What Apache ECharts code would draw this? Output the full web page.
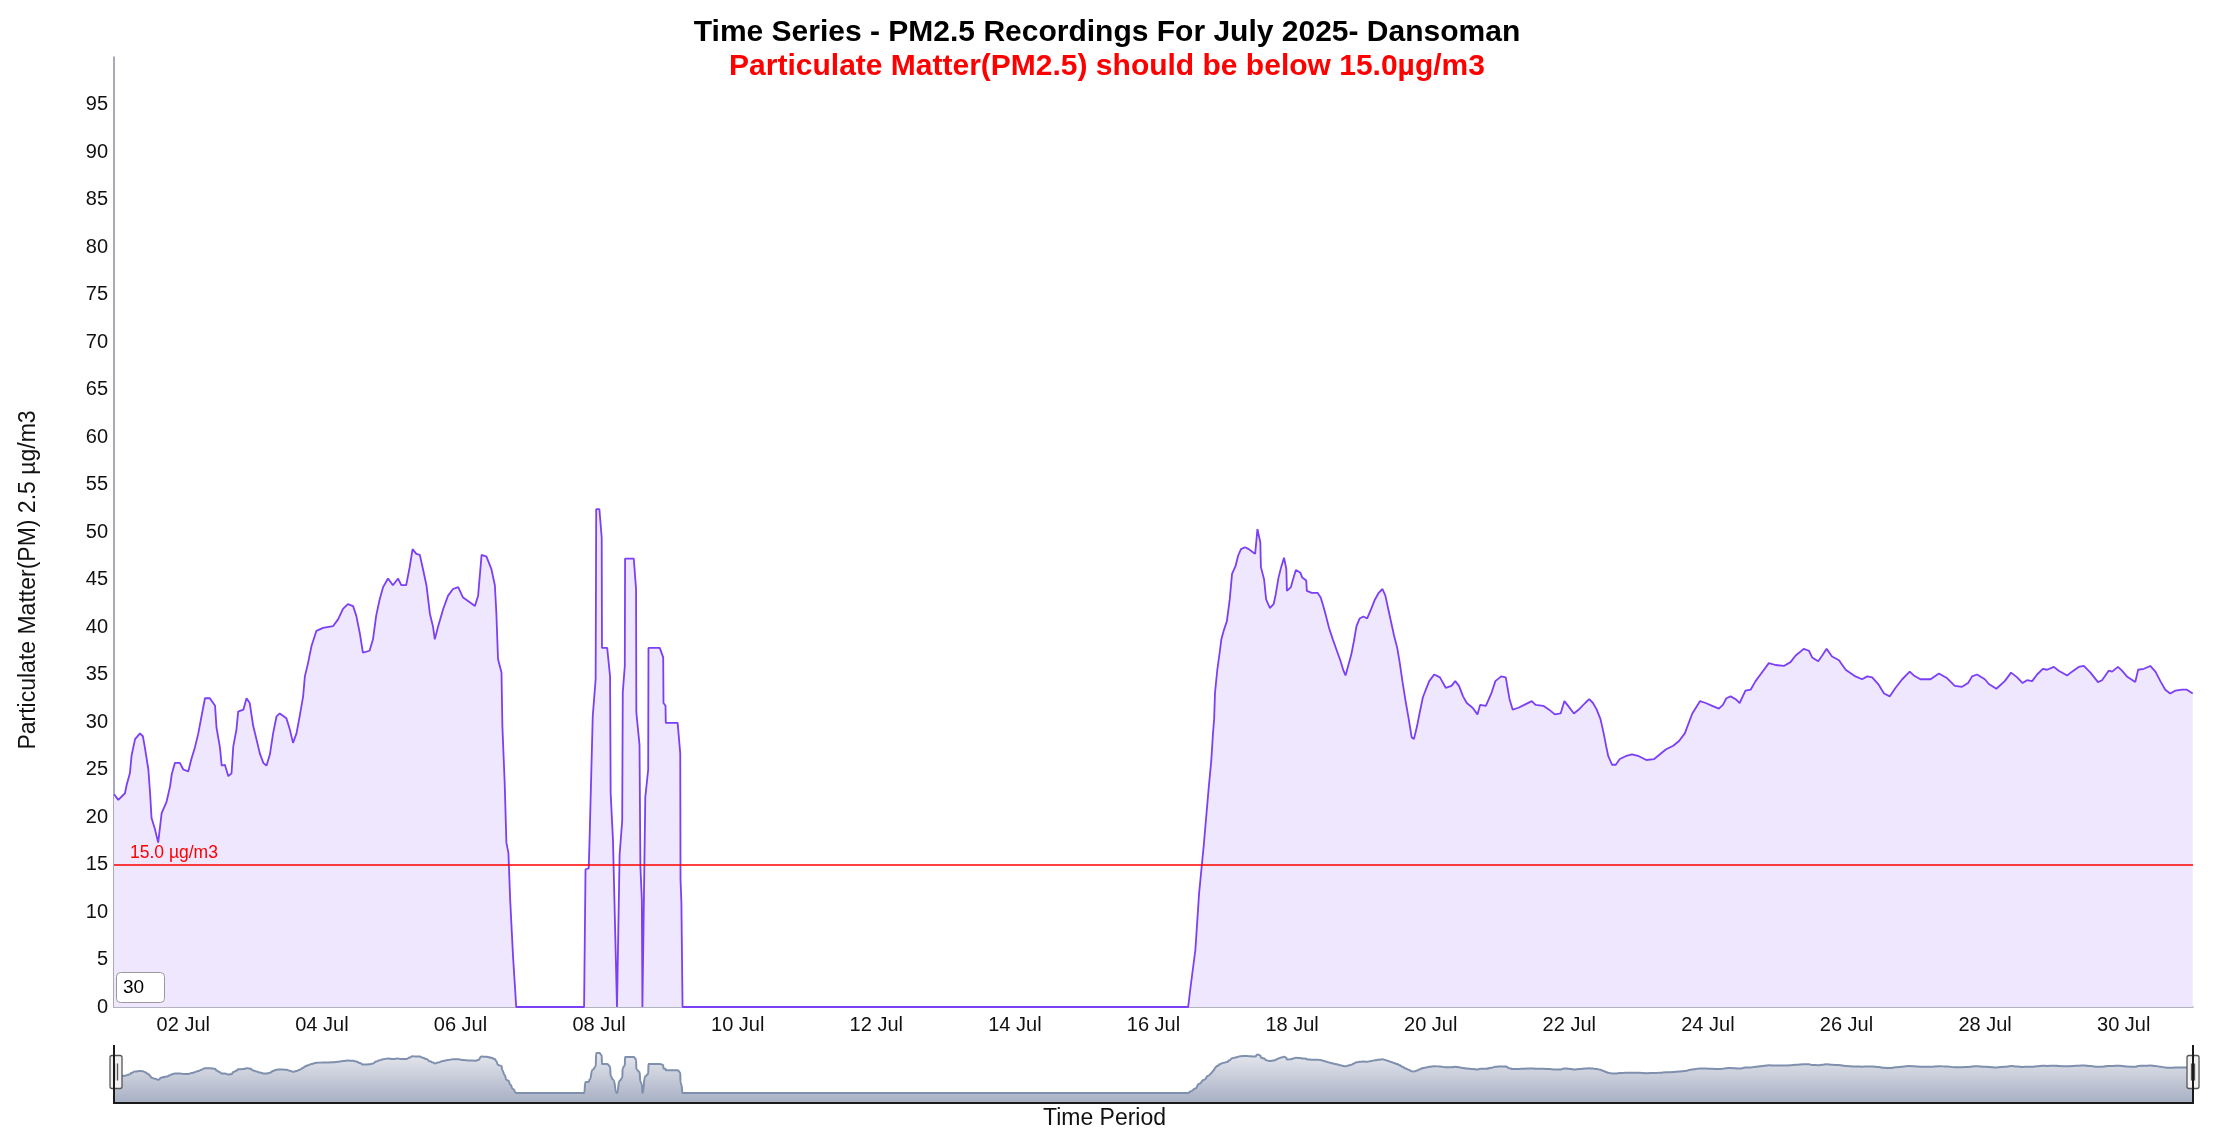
<!DOCTYPE html>
<html>
<head>
<meta charset="utf-8">
<script src="https://cdn.jsdelivr.net/npm/echarts@6/dist/echarts.min.js"></script>
<style>
html,body{margin:0;padding:0;background:#fff;}
#chart{width:2214px;height:1143px;}
</style>
</head>
<body>
<div id="chart"></div>
<script>
// ---- Data ----
const startUTC = Date.UTC(2025, 6, 1, 0, 0);   // 01 Jul 2025 00:00
const endUTC = Date.UTC(2025, 6, 31, 0, 0);    // 31 Jul 2025 00:00

// hours elapsed since 01 Jul 00:00
const hoursSinceStart = [
  0, 1.5, 3.8, 4.4, 5.5, 6.1, 7.3, 9.0, 10.0, 10.7, 11.9, 12.5, 13.0, 14.2, 15.3, 16.5, 18.2, 19.4, 20.0, 21.1,
  22.8, 24.0, 25.7, 26.9, 28.0, 29.2, 30.3, 31.5, 33.2, 35.0, 35.5, 36.7, 37.3, 38.4, 39.6, 40.7, 41.3, 42.4, 43.0, 44.8,
  45.9, 47.0, 48.2, 49.4, 50.5, 51.7, 52.8, 54.0, 55.1, 56.3, 57.4, 59.7, 60.9, 62.0, 63.2, 64.3, 65.5, 66.1, 67.2, 68.4,
  70.1, 72.4, 75.9, 77.6, 79.3, 81.0, 82.8, 83.9, 85.1, 86.2, 88.5, 89.7, 90.8, 92.0, 93.2, 94.9, 96.6, 98.4, 99.5, 101.2,
  102.4, 103.4, 104.7, 105.9, 107.0, 108.2, 109.4, 110.5, 111.1, 112.2, 114.0, 115.7, 117.4, 119.2, 120.9, 123.2, 125.0, 126.1, 127.3, 129.0,
  130.7, 131.9, 132.4, 133.0, 134.2, 134.5, 135.3, 135.9, 136.6, 137.2, 138.2, 139.3, 162.8, 163.3, 164.4, 164.7, 165.8, 166.8, 167.0, 168.1,
  168.9, 169.0, 170.8, 171.8, 172.0, 172.8, 174.2, 175.1, 176.0, 176.2, 176.9, 177.0, 180.0, 180.8, 180.9, 182.0, 182.3, 182.8, 183.0, 184.0,
  185.0, 185.1, 189.0, 190.2, 190.3, 191.0, 191.1, 195.2, 196.1, 196.2, 196.5, 196.9, 372.0, 373.0, 374.5, 375.8, 377.4, 379.1, 380.0, 380.6,
  381.0, 381.3, 382.1, 383.0, 383.5, 384.4, 385.4, 386.4, 387.2, 388.4, 389.3, 390.3, 391.7, 393.0, 394.3, 395.2, 396.0, 397.0, 397.2, 398.3,
  399.0, 400.3, 401.6, 402.3, 403.3, 404.2, 405.2, 406.0, 406.2, 407.6, 408.3, 409.3, 410.9, 411.5, 412.9, 413.1, 414.8, 416.8, 417.9, 418.8,
  419.7, 420.8, 422.1, 423.5, 424.8, 425.8, 426.5, 427.4, 428.5, 429.4, 430.3, 431.4, 432.7, 434.0, 435.4, 436.7, 438.0, 439.3, 440.3, 441.3,
  442.3, 443.3, 444.4, 445.3, 446.2, 447.3, 448.4, 449.4, 450.2, 451.3, 452.2, 453.3, 454.3, 455.5, 457.2, 459.2, 461.2, 463.2, 464.5, 465.8,
  467.2, 468.5, 470.5, 472.2, 473.1, 475.1, 477.1, 478.4, 480.4, 482.0, 483.3, 484.4, 486.4, 488.4, 491.0, 492.3, 495.0, 497.0, 499.0, 501.0,
  502.3, 503.6, 505.6, 507.6, 509.5, 510.9, 512.2, 513.5, 514.8, 515.9, 516.8, 517.5, 518.8, 520.1, 521.5, 523.5, 525.7, 528.1, 530.7, 533.4,
  535.4, 537.4, 540.0, 542.0, 544.0, 546.6, 549.3, 551.2, 553.5, 555.8, 557.2, 558.4, 559.9, 561.6, 563.0, 565.0, 566.8, 568.5, 570.2, 573.1,
  575.4, 578.3, 580.6, 582.4, 585.2, 587.0, 588.1, 590.2, 591.6, 593.1, 595.0, 597.4, 599.7, 603.1, 605.4, 607.2, 608.9, 611.2, 613.0, 615.0,
  617.0, 619.3, 621.9, 623.3, 625.6, 629.1, 632.0, 634.9, 637.5, 640.0, 642.1, 643.5, 645.2, 647.9, 649.3, 651.9, 654.8, 657.0, 659.1, 661.0,
  662.5, 664.3, 666.0, 668.0, 669.5, 671.8, 673.5, 676.4, 678.1, 680.4, 682.2, 684.5, 687.1, 688.5, 690.8, 692.0, 694.0, 695.4, 697.1, 700.0,
  701.0, 703.0, 705.2, 707.0, 708.7, 710.4, 712.1, 713.9, 716.2, 717.9, 719.9
];

// PM2.5 readings, µg/m3
const pm25Values = [
  22.4, 21.8, 22.5, 23.4, 24.6, 26.5, 28.2, 28.8, 28.5, 27.3, 25.0, 22.5, 19.9, 18.7, 17.3, 20.4, 21.6, 23.2, 24.5, 25.7,
  25.7, 25.0, 24.8, 26.2, 27.3, 28.8, 30.6, 32.5, 32.5, 31.7, 29.4, 27.3, 25.4, 25.5, 24.3, 24.6, 27.4, 29.2, 31.1, 31.3,
  32.5, 32.0, 29.6, 28.1, 26.7, 25.7, 25.4, 26.6, 28.8, 30.6, 30.9, 30.4, 29.2, 27.8, 28.8, 30.6, 32.7, 34.8, 36.2, 38.0,
  39.6, 39.9, 40.1, 40.8, 41.9, 42.4, 42.2, 41.2, 39.4, 37.3, 37.5, 38.7, 41.2, 42.9, 44.2, 45.1, 44.4, 45.1, 44.4, 44.4,
  46.3, 48.2, 47.7, 47.6, 46.1, 44.4, 41.4, 40.0, 38.7, 40.0, 41.9, 43.3, 44.0, 44.2, 43.1, 42.6, 42.2, 43.3, 47.6, 47.4,
  46.1, 44.4, 41.6, 36.6, 35.2, 29.6, 23.6, 17.3, 16.2, 11.3, 5.3, 0, 0, 14.5, 14.6, 17.6, 30.6, 34.5, 52.4, 52.4,
  49.4, 37.8, 37.8, 34.8, 22.5, 17.6, 0, 16.0, 19.6, 33.1, 35.9, 47.2, 47.2, 44.0, 31.0, 27.6, 14.8, 11.3, 0, 22.1,
  25.0, 37.8, 37.8, 36.8, 32.0, 31.7, 29.9, 29.9, 26.7, 13.4, 11.0, 0, 0, 2.5, 6.0, 12.0, 17.0, 23.0, 25.9, 28.8,
  30.3, 33.1, 35.5, 37.5, 38.7, 39.7, 40.6, 42.9, 45.6, 46.4, 47.5, 48.2, 48.4, 48.2, 47.9, 47.7, 50.3, 48.9, 46.3, 45.0,
  42.9, 42.0, 42.4, 43.4, 45.2, 46.3, 47.3, 46.1, 43.8, 44.2, 45.0, 46.0, 45.7, 45.2, 44.9, 43.8, 43.6, 43.6, 43.1, 42.2,
  41.2, 39.9, 38.7, 37.5, 36.4, 35.4, 34.9, 35.9, 37.1, 38.5, 40.1, 40.9, 41.1, 40.9, 41.9, 42.9, 43.6, 44.0, 43.3, 41.9,
  40.5, 39.1, 37.8, 36.2, 34.3, 32.2, 30.3, 28.4, 28.2, 29.6, 31.0, 32.6, 33.4, 34.3, 35.0, 34.7, 33.6, 33.8, 34.3, 33.8,
  32.7, 32.0, 31.5, 30.8, 31.8, 31.7, 33.1, 34.3, 34.8, 34.7, 32.4, 31.3, 31.5, 31.8, 32.2, 31.8, 31.7, 31.3, 30.8, 30.9,
  32.2, 31.7, 30.9, 31.4, 32.0, 32.4, 32.0, 31.3, 30.3, 28.8, 27.4, 26.4, 25.5, 25.5, 26.1, 26.4, 26.6, 26.4, 26.0, 26.1,
  26.6, 27.1, 27.5, 28.0, 28.8, 30.9, 32.2, 32.0, 31.7, 31.4, 31.8, 32.5, 32.7, 32.4, 32.0, 33.3, 33.4, 34.3, 35.0, 36.2,
  36.0, 35.9, 36.3, 37.0, 37.7, 37.5, 36.8, 36.4, 37.0, 37.7, 36.9, 36.5, 35.5, 34.8, 34.5, 34.8, 34.7, 33.9, 33.0, 32.7,
  33.6, 34.5, 35.3, 34.9, 34.5, 34.5, 35.1, 34.6, 33.8, 33.7, 34.1, 34.8, 35.0, 34.5, 34.0, 33.5, 34.3, 35.2, 34.7, 34.1,
  34.4, 34.3, 35.0, 35.6, 35.5, 35.8, 35.4, 34.9, 35.3, 35.8, 35.9, 35.2, 34.2, 34.4, 35.4, 35.3, 35.8, 35.4, 34.8, 34.2,
  35.5, 35.6, 35.9, 35.3, 34.3, 33.4, 33.0, 33.3, 33.4, 33.4, 33.0
];

// x-axis tick days and labels
const tickDays = [2, 4, 6, 8, 10, 12, 14, 16, 18, 20, 22, 24, 26, 28, 30];
const tickLabels = ['02 Jul', '04 Jul', '06 Jul', '08 Jul', '10 Jul', '12 Jul', '14 Jul', '16 Jul',
                    '18 Jul', '20 Jul', '22 Jul', '24 Jul', '26 Jul', '28 Jul', '30 Jul'];

const limitValue = 15.0;
const limitLabel = '15.0 µg/m3';
const rangeBoxText = '30';

const titleText = 'Time Series - PM2.5 Recordings For July 2025- Dansoman';
const subtitleText = 'Particulate Matter(PM2.5) should be below 15.0µg/m3';
const yAxisTitle = 'Particulate Matter(PM) 2.5 µg/m3';
const xAxisTitle = 'Time Period';

// ---- Build chart ----
const FONT = '"Liberation Sans", Arial, Helvetica, sans-serif';
const seriesData = hoursSinceStart.map((h, i) => [startUTC + h * 3600000, pm25Values[i]]);
const tickTimes = tickDays.map(d => Date.UTC(2025, 6, d, 0, 0));

const navGradient = {
  type: 'linear', x: 0, y: 0, x2: 0, y2: 1,
  colorStops: [{ offset: 0, color: '#e6e8ee' }, { offset: 1, color: '#a7afc3' }]
};

const chart = echarts.init(document.getElementById('chart'), null, { renderer: 'canvas' });
chart.setOption({
  animation: false,
  backgroundColor: '#ffffff',
  textStyle: { fontFamily: FONT },
  title: {
    left: 'center',
    top: 13,
    itemGap: 4,
    text: titleText,
    subtext: subtitleText,
    textStyle: { fontFamily: FONT, fontSize: 30, fontWeight: 'bold', color: '#000000' },
    subtextStyle: { fontFamily: FONT, fontSize: 30, fontWeight: 'bold', color: '#ff0000' }
  },
  grid: [
    { left: 114, right: 21, top: 57, bottom: 136, containLabel: false },
    { left: 114, right: 21, top: 1041, height: 62, containLabel: false }
  ],
  xAxis: [{
    type: 'value',
    gridIndex: 0,
    min: startUTC,
    max: endUTC,
    axisLine: { show: true, onZero: false, lineStyle: { color: '#9a9aaa', width: 1.5 } },
    axisTick: { show: false },
    splitLine: { show: false },
    axisLabel: {
      customValues: tickTimes,
      formatter: function (v) {
        const idx = tickTimes.indexOf(v);
        return idx >= 0 ? tickLabels[idx] : '';
      },
      fontFamily: FONT, fontSize: 20, color: '#111111', margin: 8
    },
    name: xAxisTitle,
    nameLocation: 'middle',
    nameGap: 100,
    nameTextStyle: { fontFamily: FONT, fontSize: 23, color: '#111111', padding: [0, 98, 0, 0] }
  }, {
    type: 'value',
    gridIndex: 1,
    min: startUTC,
    max: endUTC,
    show: false
  }],
  yAxis: [{
    type: 'value',
    gridIndex: 0,
    min: 0,
    max: 100,
    interval: 5,
    axisLine: { show: true, lineStyle: { color: '#8e8ea2', width: 1.5 } },
    axisTick: { show: false },
    splitLine: { show: false },
    axisLabel: { fontFamily: FONT, fontSize: 20, color: '#111111', margin: 6, showMaxLabel: false },
    name: yAxisTitle,
    nameLocation: 'middle',
    nameGap: 74,
    nameTextStyle: { fontFamily: FONT, fontSize: 23, color: '#111111', padding: [0, 96, 0, 0] }
  }, {
    type: 'value',
    gridIndex: 1,
    min: -13,
    max: 68,
    show: false
  }],
  dataZoom: [{
    type: 'slider',
    xAxisIndex: 0,
    start: 0, end: 100,
    filterMode: 'none',
    left: 114, right: 21, top: 1041, height: 62,
    showDetail: false,
    showDataShadow: false,
    brushSelect: false,
    moveHandleSize: 0,
    realtime: false,
    borderColor: 'transparent',
    backgroundColor: 'transparent',
    fillerColor: 'rgba(0,0,0,0)',
    handleIcon: 'path://M2,0H10Q12,0,12,2V31Q12,33,10,33H2Q0,33,0,31V2Q0,0,2,0ZM4.5,8V25M7.5,8V25',
    handleSize: 33,
    handleStyle: { color: '#f2f2f2', borderColor: '#555555', borderWidth: 1.3 },
    emphasis: { handleStyle: { color: '#f2f2f2', borderColor: '#555555', borderWidth: 1.3 } }
  }],
  graphic: [
    {
      type: 'polyline',
      z: 50,
      silent: true,
      shape: { points: [[114, 1045], [114, 1103], [2193, 1103], [2193, 1045]] },
      style: { stroke: '#1a1a1a', lineWidth: 2, fill: null }
    },
    {
      type: 'rect',
      z: 100,
      silent: true,
      shape: { x: 116.5, y: 972.5, width: 48, height: 30, r: 4 },
      style: { fill: '#ffffff', stroke: '#9a9a9a', lineWidth: 1 }
    },
    {
      type: 'text',
      z: 101,
      silent: true,
      x: 123,
      y: 988,
      style: { text: rangeBoxText, fontFamily: FONT, fontSize: 19, fill: '#000000',
               verticalAlign: 'middle', align: 'left' }
    }
  ],
  series: [{
    type: 'line',
    name: 'PM2.5',
    xAxisIndex: 0,
    yAxisIndex: 0,
    data: seriesData,
    showSymbol: false,
    symbol: 'none',
    lineStyle: { color: '#7b3ff6', width: 1.8 },
    itemStyle: { color: '#7b3ff6' },
    areaStyle: { color: '#efe7fe', opacity: 1 },
    markLine: {
      silent: true,
      symbol: 'none',
      data: [{ yAxis: limitValue }],
      lineStyle: { color: '#ff0000', width: 1.6, type: 'solid' },
      label: { show: true, position: 'insideStartTop', formatter: limitLabel,
               color: '#ff0000', fontFamily: FONT, fontSize: 17.5, distance: [16, 2] },
      emphasis: { disabled: true }
    }
  }, {
    type: 'line',
    name: 'navigator',
    xAxisIndex: 1,
    yAxisIndex: 1,
    data: seriesData,
    silent: true,
    showSymbol: false,
    symbol: 'none',
    smooth: 0.6,
    smoothMonotone: 'x',
    lineStyle: { color: '#7f8fae', width: 2 },
    itemStyle: { color: '#7f8fae' },
    areaStyle: { color: navGradient, opacity: 1, origin: 'start' }
  }]
});
</script>
</body>
</html>
